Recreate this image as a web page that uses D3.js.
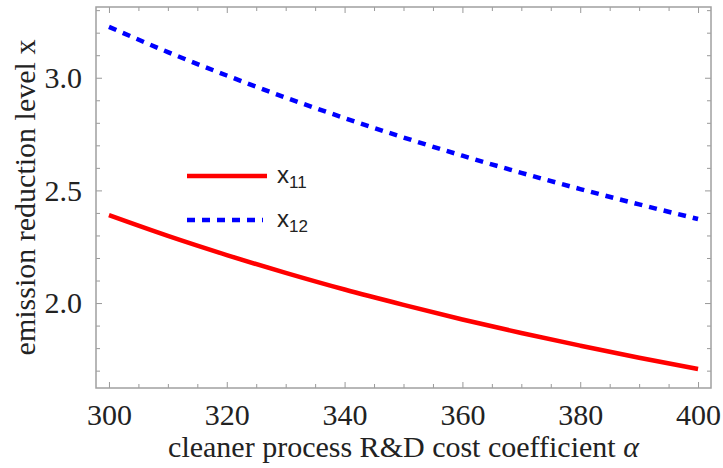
<!DOCTYPE html>
<html>
<head>
<meta charset="utf-8">
<script src="https://cdn.jsdelivr.net/npm/d3@7"></script>
<style>
    body { margin: 0; background: #fff; }
    svg { display: block; }
    .tick text { font-family: "Liberation Serif", serif; fill: #222; }
</style>
</head>
<body>
<svg width="723" height="468"></svg>
<script>
    // values
    var alpha = [300, 310, 320, 330, 340, 350, 360, 370, 380, 390, 400];
    var x11 = [2.390, 2.298, 2.213, 2.134, 2.060, 1.992, 1.927, 1.867, 1.811, 1.757, 1.707];
    var x12 = [3.226, 3.114, 3.010, 2.912, 2.821, 2.735, 2.654, 2.578, 2.506, 2.438, 2.373];
    var xTicks = [300, 320, 340, 360, 380, 400];
    var yTicks = [2.0, 2.5, 3.0];
    var seriesNames = ['11', '12'];

    var W = 723, H = 468;
    var m = { top: 7, right: 12, bottom: 80, left: 96 };
    var w = W - m.left - m.right, h = H - m.top - m.bottom;

    var xs = d3.scaleLinear().domain([297.8, 402.2]).range([0, w]);
    var ys = d3.scaleLinear().domain([1.623, 3.314]).range([h, 0]);

    var xMinor = d3.range(300, 401, 5).filter(function (d) { return d % 20 != 0; });
    var yMinor = d3.range(17, 34).map(function (d) { return d / 10; })
        .filter(function (d) { return Math.round(d * 10) % 5 != 0; });

    var svg = d3.select('svg');
    var g = svg.append('g').attr('transform', 'translate(' + m.left + ',' + m.top + ')');

    function styleAxis(sel) {
        sel.select('.domain').remove();
        sel.selectAll('.tick line').attr('stroke', '#999').attr('stroke-width', 1);
    }

    // bottom
    g.append('g').attr('transform', 'translate(0,' + h + ')')
        .call(d3.axisBottom(xs).tickValues(xTicks).tickSizeInner(-6).tickSizeOuter(0).tickPadding(16).tickFormat(d3.format('d')))
        .call(styleAxis)
        .selectAll('text').style('font-size', '30px');
    g.append('g').attr('transform', 'translate(0,' + h + ')')
        .call(d3.axisBottom(xs).tickValues(xMinor).tickSizeInner(-4).tickSizeOuter(0).tickFormat(''))
        .call(styleAxis);
    // top
    g.append('g')
        .call(d3.axisTop(xs).tickValues(xTicks).tickSizeInner(-6).tickSizeOuter(0).tickFormat(''))
        .call(styleAxis);
    g.append('g')
        .call(d3.axisTop(xs).tickValues(xMinor).tickSizeInner(-4).tickSizeOuter(0).tickFormat(''))
        .call(styleAxis);
    // left
    g.append('g')
        .call(d3.axisLeft(ys).tickValues(yTicks).tickSizeInner(-6).tickSizeOuter(0).tickPadding(14).tickFormat(d3.format('.1f')))
        .call(styleAxis)
        .selectAll('text').style('font-size', '30px');
    g.append('g')
        .call(d3.axisLeft(ys).tickValues(yMinor).tickSizeInner(-4).tickSizeOuter(0).tickFormat(''))
        .call(styleAxis);
    // right
    g.append('g').attr('transform', 'translate(' + w + ',0)')
        .call(d3.axisRight(ys).tickValues(yTicks).tickSizeInner(-6).tickSizeOuter(0).tickFormat(''))
        .call(styleAxis);
    g.append('g').attr('transform', 'translate(' + w + ',0)')
        .call(d3.axisRight(ys).tickValues(yMinor).tickSizeInner(-4).tickSizeOuter(0).tickFormat(''))
        .call(styleAxis);

    // frame
    g.append('rect').attr('width', w).attr('height', h)
        .attr('fill', 'none').attr('stroke', '#a0a0a0').attr('stroke-width', 1.5);

    var line = d3.line().curve(d3.curveMonotoneX)
        .x(function (d, i) { return xs(alpha[i]); })
        .y(function (d) { return ys(d); });

    g.append('path').datum(x11)
        .attr('d', line).attr('fill', 'none')
        .attr('stroke', '#ff0000').attr('stroke-width', 4.5);
    g.append('path').datum(x12)
        .attr('d', line).attr('fill', 'none')
        .attr('stroke', '#0000ff').attr('stroke-width', 4.5)
        .attr('stroke-dasharray', '8,7');

    // legend
    var leg = svg.append('g').attr('transform', 'translate(187,176)');
    var styles = [{ c: '#ff0000', d: null, len: 80 }, { c: '#0000ff', d: '8,7', len: 76 }];
    seriesNames.forEach(function (s, i) {
        var row = leg.append('g').attr('transform', 'translate(0,' + (i * 44) + ')');
        row.append('line').attr('x1', 0).attr('x2', styles[i].len)
            .attr('stroke', styles[i].c).attr('stroke-width', 4.5)
            .attr('stroke-dasharray', styles[i].d);
        var t = row.append('text').attr('x', 90).attr('y', 7)
            .style('font-family', '"Liberation Sans", Arial, sans-serif')
            .style('font-size', '24px').attr('fill', '#222');
        t.append('tspan').text('x');
        t.append('tspan').attr('dy', 5).style('font-size', '17px').text(s);
    });

    // axis titles
    var xt = svg.append('text')
        .attr('x', m.left + w / 2).attr('y', 457)
        .attr('text-anchor', 'middle')
        .style('font-family', '"Liberation Serif", serif')
        .style('font-size', '30px').attr('fill', '#222');
    xt.append('tspan').text('cleaner process R&D cost coefficient ');
    xt.append('tspan').style('font-style', 'italic').text('α');

    svg.append('text')
        .attr('transform', 'translate(35,' + (m.top + h / 2) + ') rotate(-90)')
        .attr('text-anchor', 'middle')
        .style('font-family', '"Liberation Serif", serif')
        .style('font-size', '30px').attr('fill', '#222')
        .text('emission reduction level x');
</script>
</body>
</html>
